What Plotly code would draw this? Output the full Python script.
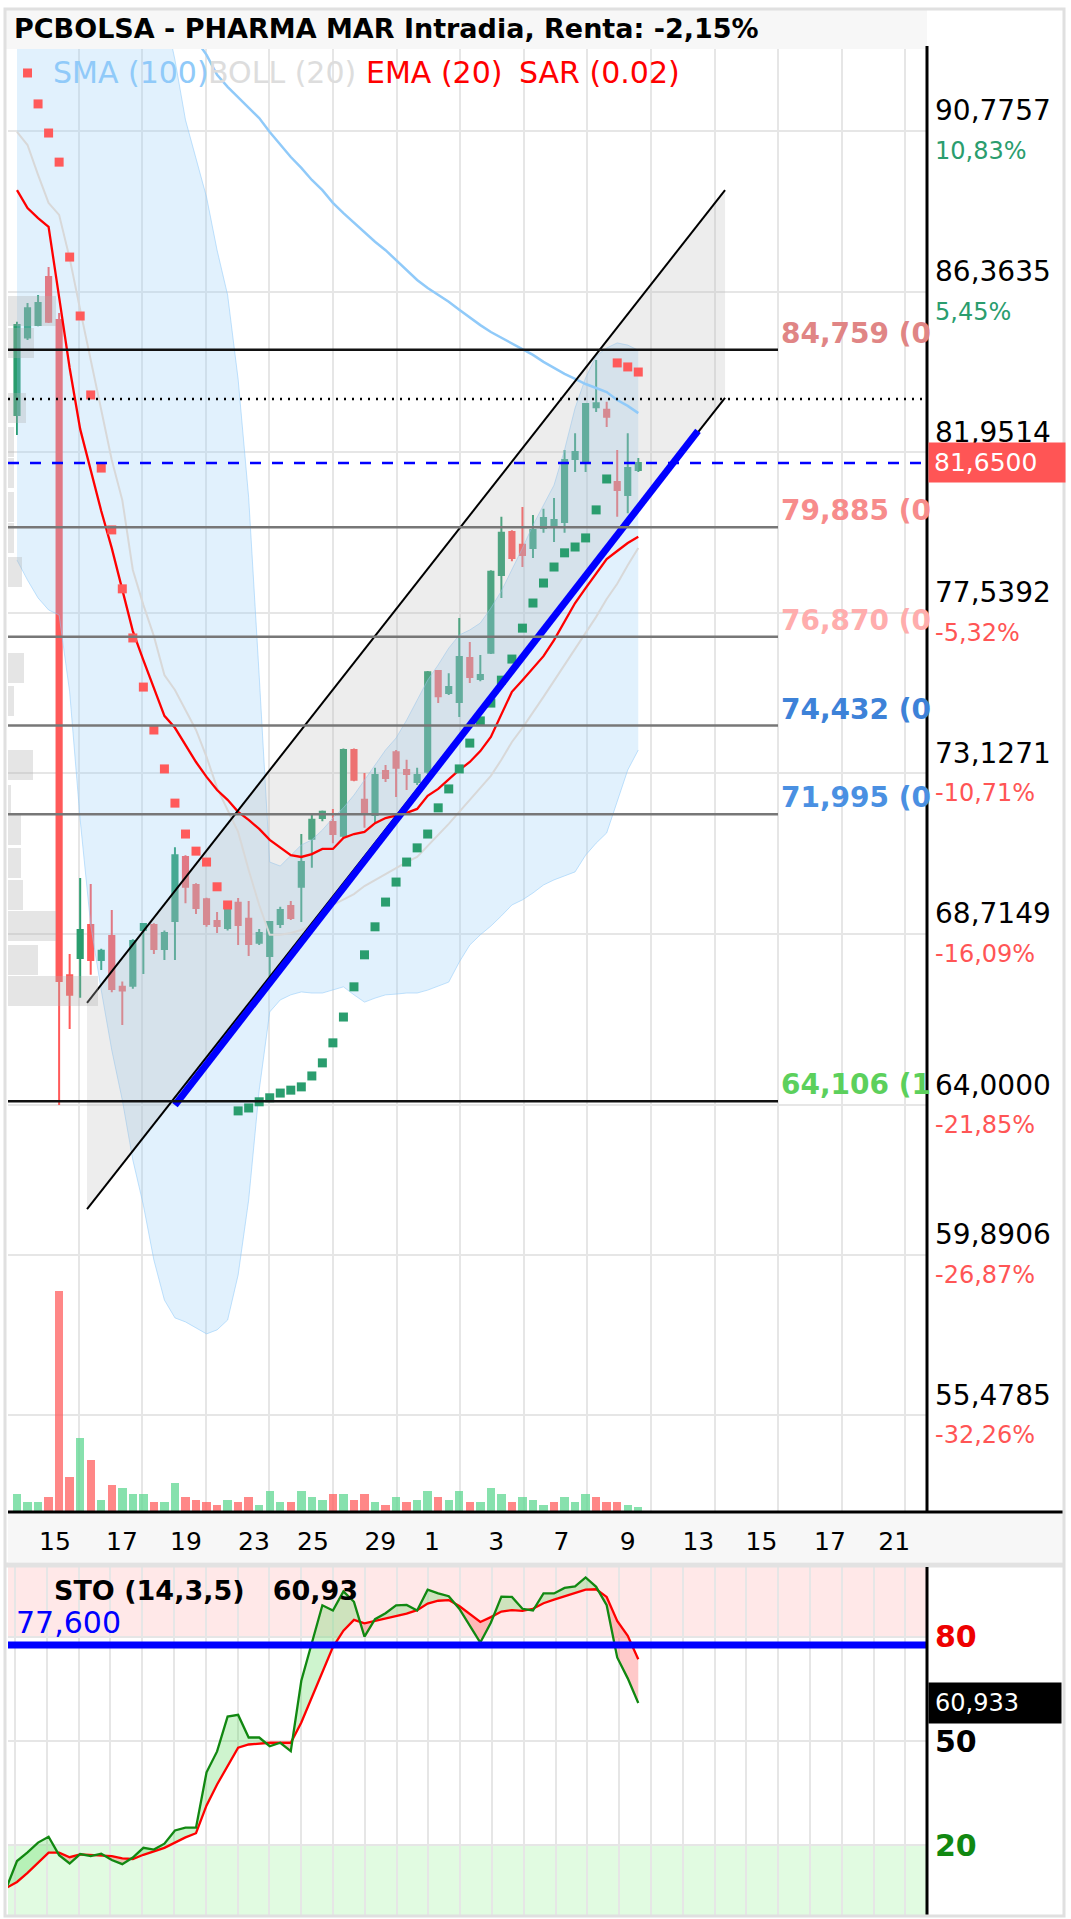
import plotly.graph_objects as go

W, H = 1071, 1919

# ----------------------------- data -----------------------------
bar_idx = list(range(60))
opens = [82.97, 85.10, 85.44, 86.76, 85.58, 67.57, 68.04, 68.95, 67.99, 68.65,
         67.25, 67.28, 68.81, 68.95, 68.29, 69.06, 70.82, 70.05, 69.66, 69.06,
         68.87, 69.56, 69.12, 68.46, 68.10, 68.98, 69.47, 70.00, 71.32, 71.89,
         71.78, 71.40, 73.76, 72.39, 71.97, 73.18, 73.70, 73.21, 72.88, 73.16,
         75.93, 75.33, 75.08, 76.29, 75.71, 76.43, 78.57, 79.75, 79.40, 79.31,
         79.86, 79.89, 80.03, 81.76, 81.68, 83.18, 83.11, 81.13, 80.77, 81.46]
highs = [85.53, 86.05, 86.27, 87.04, 85.77, 68.15, 70.24, 70.08, 68.30, 69.36,
         67.40, 68.56, 68.98, 69.00, 68.80, 71.09, 70.87, 70.10, 69.70, 69.31,
         69.60, 69.69, 69.61, 68.84, 69.05, 69.45, 69.61, 71.45, 72.03, 72.10,
         72.14, 73.80, 73.80, 73.13, 73.27, 73.35, 73.76, 73.49, 73.27, 75.93,
         75.95, 75.87, 77.39, 76.73, 76.37, 78.70, 80.17, 79.80, 80.44, 80.22,
         80.39, 80.69, 82.01, 82.47, 83.27, 84.48, 83.33, 82.01, 82.47, 81.79]
lows = [82.42, 85.03, 85.41, 85.50, 64.00, 66.09, 66.95, 67.58, 67.71, 67.10,
        66.20, 67.20, 67.60, 68.15, 67.99, 67.99, 69.55, 69.25, 68.90, 68.73,
        68.80, 68.40, 68.10, 68.40, 67.52, 68.87, 69.09, 69.03, 70.52, 71.80,
        71.20, 71.35, 72.90, 71.62, 71.75, 72.88, 72.47, 72.66, 72.80, 73.10,
        75.05, 75.27, 74.67, 75.60, 75.65, 76.40, 77.94, 78.95, 78.79, 79.04,
        79.73, 79.48, 79.73, 81.40, 81.40, 83.05, 82.64, 80.17, 80.27, 81.40]
closes = [85.44, 85.90, 86.05, 85.53, 67.41, 67.03, 68.81, 67.99, 68.24, 67.19,
          67.15, 68.51, 68.98, 68.29, 68.73, 70.87, 70.00, 69.42, 68.98, 68.92,
          69.50, 68.95, 68.43, 68.73, 69.03, 69.36, 69.14, 70.68, 71.84, 72.06,
          71.45, 73.76, 72.94, 72.03, 73.07, 72.99, 73.27, 73.10, 73.07, 75.90,
          75.24, 75.49, 76.32, 75.77, 75.82, 78.66, 79.73, 79.04, 79.12, 79.81,
          80.14, 80.08, 81.73, 81.95, 83.27, 83.29, 82.92, 80.91, 81.51, 81.65]

volumes = [180, 100, 100, 150, 2210, 350, 740, 520, 120, 270,
           240, 180, 180, 100, 100, 290, 150, 120, 100, 70,
           120, 100, 150, 70, 210, 100, 100, 210, 150, 120,
           180, 180, 120, 180, 100, 70, 150, 100, 120, 210,
           150, 120, 210, 100, 100, 240, 180, 100, 150, 120,
           70, 100, 150, 100, 180, 150, 100, 100, 70, 50]
volume_up = "gggrrrgrgrgggrggrrrrgrrgggrgggrgrrgrgrggrggrgggrgggrgggrrrgg"

ema20 = [89.15, 88.66, 88.38, 88.14, 86.21, 84.26, 82.58, 81.43, 80.33, 79.31,
         78.16, 77.03, 76.23, 75.44, 74.70, 74.37, 73.90, 73.43, 73.02, 72.66,
         72.39, 72.06, 71.84, 71.59, 71.29, 71.07, 70.87, 70.82, 70.90, 71.04,
         71.04, 71.34, 71.45, 71.51, 71.75, 71.89, 71.95, 72.03, 72.14, 72.50,
         72.69, 72.94, 73.21, 73.43, 73.73, 74.12, 74.75, 75.36, 75.68, 76.01,
         76.34, 76.78, 77.28, 77.80, 78.21, 78.60, 79.01, 79.23, 79.45, 79.62]

sma100 = [None] * 16 + [
    93.83, 93.28, 92.87, 92.32, 91.99, 91.71, 91.41, 91.13, 90.75, 90.39,
    90.06, 89.76, 89.43, 89.15, 88.80, 88.52, 88.25, 88.00, 87.73, 87.50,
    87.23, 86.95, 86.68, 86.46, 86.27, 86.08, 85.86, 85.64, 85.44, 85.25,
    85.09, 84.92, 84.76, 84.62, 84.43, 84.26, 84.10, 83.96, 83.82, 83.71,
    83.60, 83.38, 83.22, 83.02]

boll_mid = [90.75, 90.39, 89.57, 88.80, 88.47, 87.28, 85.86, 84.48, 83.11, 81.73,
            80.63, 78.71, 77.75, 76.89, 75.82, 75.41, 74.86, 74.31, 73.57, 72.72,
            72.11, 71.51, 70.46, 69.50, 68.68, 68.68, 68.73, 68.81, 68.95, 69.20,
            69.50, 69.64, 69.80, 70.02, 70.19, 70.35, 70.52, 70.68, 70.82, 71.12,
            71.42, 71.73, 72.06, 72.39, 72.74, 73.05, 73.49, 73.98, 74.37, 74.78,
            75.22, 75.66, 76.10, 76.51, 76.95, 77.42, 77.91, 78.33, 78.84, 79.31]
boll_up = [99.5, 99.3, 99.0, 98.8, 98.6, 98.5, 98.3, 98.0, 97.6, 97.2,
           96.6, 95.9, 95.2, 94.5, 94.10, 92.73, 91.08, 89.98, 88.96, 87.50,
           86.27, 83.95, 80.70, 75.80, 70.68, 70.57, 70.87, 71.15, 71.29, 71.56,
           71.89, 72.17, 72.52, 72.94, 73.35, 73.76, 74.09, 74.58, 75.13, 75.68,
           76.10, 76.56, 76.92, 77.06, 77.25, 77.66, 78.13, 78.71, 79.31, 79.94,
           80.49, 81.04, 82.01, 83.16, 83.99, 84.59, 84.81, 84.95, 84.89, 84.75]
boll_lo = [78.98, 78.43, 77.94, 77.61, 77.47, 75.36, 71.84, 68.95, 67.16, 65.51,
           64.14, 62.49, 61.25, 59.74, 58.64, 58.15, 58.04, 57.87, 57.71, 57.82,
           58.09, 59.33, 61.39, 64.41, 66.56, 66.89, 67.03, 67.11, 67.08, 67.08,
           67.16, 67.25, 67.03, 66.83, 66.94, 67.03, 67.05, 67.08, 67.08, 67.16,
           67.27, 67.38, 67.93, 68.40, 68.68, 68.92, 69.20, 69.50, 69.64, 69.83,
           70.05, 70.19, 70.30, 70.41, 70.87, 71.20, 71.48, 72.33, 73.21, 73.76]

sar = [None, 92.37, 91.52, 90.72, 89.92, 87.31, 85.69, 83.52, 81.51, 79.81,
       78.19, 76.84, 75.49, 74.31, 73.24, 72.30, 71.45, 70.98, 70.68, 70.00,
       69.50, 63.84, 63.92, 64.09, 64.20, 64.33, 64.41, 64.50, 64.80, 65.16,
       65.71, 66.42, 67.25, 68.13, 68.90, 69.58, 70.13, 70.68, 71.07, 71.45,
       72.17, 72.69, 73.24, 73.95, 74.56, 75.05, 75.68, 76.26, 77.11, 77.80,
       78.35, 78.79, 79.18, 79.34, 79.59, 80.36, 81.21, 84.40, 84.29, 84.15]
sar_long_from, sar_long_to = 21, 56

# volume-by-price profile (left side)
vp_price = [85.83, 84.95, 83.16, 82.23, 81.37, 80.44, 79.59, 78.65, 76.02, 75.11,
            73.35, 72.39, 71.56, 70.65, 69.77, 68.92, 67.99, 67.14]
vp_volume = [48, 26, 18, 6, 6, 6, 6, 14, 16, 6, 25, 3, 13, 13, 15, 48, 30, 90]

# stochastic (14,3,5)
sto_idx = list(range(-1, 60))
sto_k = [7.8, 15.5, 18, 20.8, 22.5, 17.2, 14.8, 17.5, 16.9, 17.6, 15.8,
         14.6, 16.5, 19.3, 18.8, 20.5, 24.3, 25.1, 25.1, 41, 47,
         57, 57.5, 51, 51, 48.5, 49.5, 47.1, 67.3, 78, 89,
         87.5, 93, 90, 80, 85, 86.7, 89, 89.1, 87.5, 93.5,
         92.4, 91.6, 88, 83, 78.3, 84, 91.5, 91.4, 88, 87.5,
         92.4, 92.4, 94, 94.4, 97, 94.3, 89, 74, 68, 60.933]
sto_d = [7.8, 9.5, 12.1, 15, 17.9, 17.9, 16.6, 17.4, 17.2, 17.0, 16.9,
         16.3, 16.1, 17.3, 18.4, 19.3, 20.8, 22.3, 23.5, 31.5, 37.5,
         43, 48.1, 49, 49.3, 49.5, 49.5, 49.5, 55.3, 62.5, 69.5,
         77, 81.7, 84.8, 83.8, 84.5, 85.2, 86, 86.6, 87.6, 89.5,
         90.3, 90.5, 88.8, 86.6, 84.2, 85.6, 87.2, 87.6, 87.4, 88,
         89.6, 90.6, 91.6, 92.6, 93.5, 93.6, 91.4, 84.5, 80.2, 73.5]
sto_level = 77.6

# drawing tools
channel_x = [6.65, 67.24]
channel_upper = [66.81, 89.15]
channel_lower = [61.14, 83.44]
support_x = [15.0, 64.67]
support_y = [64.00, 82.53]

levels = [84.759, 79.885, 76.870, 74.432, 71.995, 64.106]
level_text = ["84,759 (0", "79,885 (0", "76,870 (0", "74,432 (0", "71,995 (0", "64,106 (1"]
level_text_color = ["#e08585", "#f78c8c", "#ffadad", "#3d82d8", "#4a90e2", "#5cd05c"]
level_line_color = ["#111111", "#777777", "#777777", "#777777", "#777777", "#111111"]
dotted_level = 83.41
last_price = 81.65

price_ticks = [90.7757, 86.3635, 81.9514, 77.5392, 73.1271, 68.7149, 64.0, 59.8906, 55.4785]
pct_text = ["10,83%", "5,45%", "", "-5,32%", "-10,71%", "-16,09%", "-21,85%", "-26,87%", "-32,26%"]

date_pos = [3.6, 9.97, 16.05, 22.5, 28.1, 34.5, 39.4, 45.5, 51.7, 58.0, 64.7, 70.7, 77.2, 83.3]
date_text = ["15", "17", "19", "23", "25", "29", "1", "3", "7", "9", "13", "15", "17", "21"]

# ----------------------------- layout helpers -----------------------------
def PX(x):
    return x / W


def PY(y):
    return 1 - y / H


X0, X1 = 8, 927
MAIN_T, MAIN_B = 46, 1512
STO_T, STO_B = 1567, 1915
XR = [-0.855, 86.42]
YR = [52.814, 93.112]

GREEN = "#2a9d6e"
RED = "#ff5a5a"
FONT = "DejaVu Sans"

grid_all = [-0.2 + 3.02 * k for k in range(29)]
grid_main = [g for k, g in enumerate(grid_all) if k % 2 == 0 and k > 0]

fig = go.Figure()

# volume profile
fig.add_trace(go.Bar(x=vp_volume, y=vp_price, orientation="h", width=0.82,
                     marker=dict(color="rgba(175,175,175,0.32)", line=dict(width=0)),
                     xaxis="x3", yaxis="y", hoverinfo="skip"))

# Bollinger bands
fig.add_trace(go.Scatter(x=bar_idx, y=boll_up, mode="lines",
                         line=dict(color="rgba(144,202,249,0.55)", width=1),
                         xaxis="x", yaxis="y"))
fig.add_trace(go.Scatter(x=bar_idx, y=boll_lo, mode="lines", fill="tonexty",
                         fillcolor="rgba(144,202,249,0.27)",
                         line=dict(color="rgba(144,202,249,0.55)", width=1),
                         xaxis="x", yaxis="y"))

# regression channel fill
fig.add_trace(go.Scatter(x=[channel_x[0], channel_x[1], channel_x[1], channel_x[0], channel_x[0]],
                         y=[channel_upper[0], channel_upper[1], channel_lower[1], channel_lower[0], channel_upper[0]],
                         mode="lines", fill="toself", fillcolor="rgba(185,185,185,0.26)",
                         line=dict(width=0), xaxis="x", yaxis="y"))

# volume bars
fig.add_trace(go.Bar(x=bar_idx, y=volumes, width=0.8,
                     marker=dict(color=["rgba(95,215,145,0.75)" if c == "g" else "rgba(255,95,95,0.75)"
                                        for c in volume_up], line=dict(width=0)),
                     xaxis="x", yaxis="y3"))

# SMA / BOLL mid / EMA
fig.add_trace(go.Scatter(x=bar_idx, y=sma100, mode="lines", line=dict(color="#90caf9", width=2.5),
                         xaxis="x", yaxis="y"))
fig.add_trace(go.Scatter(x=bar_idx, y=boll_mid, mode="lines", line=dict(color="#d8d8d8", width=2),
                         xaxis="x", yaxis="y"))
fig.add_trace(go.Scatter(x=bar_idx, y=ema20, mode="lines", line=dict(color="#ff0000", width=2.3),
                         xaxis="x", yaxis="y"))

# candles
fig.add_trace(go.Candlestick(x=bar_idx, open=opens, high=highs, low=lows, close=closes,
                             increasing=dict(line=dict(color=GREEN, width=2), fillcolor=GREEN),
                             decreasing=dict(line=dict(color=RED, width=2), fillcolor=RED),
                             whiskerwidth=0, xaxis="x", yaxis="y"))

# SAR
sar_colors = [GREEN if sar_long_from <= i <= sar_long_to else RED for i in bar_idx]
fig.add_trace(go.Scatter(x=bar_idx, y=sar, mode="markers",
                         marker=dict(symbol="square", size=9, color=sar_colors, line=dict(width=0)),
                         xaxis="x", yaxis="y"))

# channel lines and support line
fig.add_trace(go.Scatter(x=channel_x, y=channel_upper, mode="lines", line=dict(color="black", width=2),
                         xaxis="x", yaxis="y"))
fig.add_trace(go.Scatter(x=channel_x, y=channel_lower, mode="lines", line=dict(color="black", width=2),
                         xaxis="x", yaxis="y"))
fig.add_trace(go.Scatter(x=support_x, y=support_y, mode="lines", line=dict(color="#0000ff", width=7),
                         xaxis="x", yaxis="y"))

# stochastic fills between %K and %D
def fill_segments(xs, k, d):
    segs = []
    top = [(xs[0], k[0])]
    bot = [(xs[0], d[0])]
    sign = k[0] >= d[0]
    for i in range(1, len(xs)):
        s = k[i] >= d[i]
        if s != sign:
            dk = k[i] - k[i - 1]
            dd = d[i] - d[i - 1]
            t = (d[i - 1] - k[i - 1]) / (dk - dd) if dk != dd else 0.5
            xc = xs[i - 1] + t * (xs[i] - xs[i - 1])
            yc = k[i - 1] + t * dk
            top.append((xc, yc))
            bot.append((xc, yc))
            segs.append((top, bot, sign))
            top = [(xc, yc)]
            bot = [(xc, yc)]
            sign = s
        top.append((xs[i], k[i]))
        bot.append((xs[i], d[i]))
    segs.append((top, bot, sign))
    return segs


for top, bot, up in fill_segments(sto_idx, sto_k, sto_d):
    px_ = [p[0] for p in top] + [p[0] for p in reversed(bot)]
    py_ = [p[1] for p in top] + [p[1] for p in reversed(bot)]
    fig.add_trace(go.Scatter(x=px_, y=py_, mode="lines", fill="toself",
                             fillcolor="rgba(60,210,60,0.25)" if up else "rgba(255,60,60,0.28)",
                             line=dict(width=0), xaxis="x2", yaxis="y2"))

fig.add_trace(go.Scatter(x=sto_idx, y=sto_d, mode="lines", line=dict(color="#ff0000", width=2.3),
                         xaxis="x2", yaxis="y2"))
fig.add_trace(go.Scatter(x=sto_idx, y=sto_k, mode="lines", line=dict(color="#118811", width=2.3),
                         xaxis="x2", yaxis="y2"))

# ----------------------------- shapes -----------------------------
shapes = []
shapes.append(dict(type="rect", xref="x2 domain", yref="y2", x0=0, x1=1, y0=80, y1=100,
                   fillcolor="rgba(255,140,140,0.2)", line=dict(width=0), layer="below"))
shapes.append(dict(type="rect", xref="x2 domain", yref="y2", x0=0, x1=1, y0=0, y1=20,
                   fillcolor="rgba(120,235,120,0.22)", line=dict(width=0), layer="below"))
shapes.append(dict(type="line", xref="x2 domain", yref="y2", x0=0, x1=1, y0=sto_level, y1=sto_level,
                   line=dict(color="#0000ff", width=7), layer="above"))

for lv, lc in zip(levels, level_line_color):
    shapes.append(dict(type="line", xref="x domain", yref="y", x0=0, x1=(778 - X0) / (X1 - X0),
                       y0=lv, y1=lv, line=dict(color=lc, width=2.5), layer="above"))
shapes.append(dict(type="line", xref="x domain", yref="y", x0=0, x1=1, y0=dotted_level, y1=dotted_level,
                   line=dict(color="black", width=2.5, dash="2px,6px"), layer="above"))
shapes.append(dict(type="line", xref="x domain", yref="y", x0=0, x1=1, y0=last_price, y1=last_price,
                   line=dict(color="#0000ff", width=2.5, dash="11px,11px"), layer="above"))

shapes.append(dict(type="rect", xref="paper", yref="paper", x0=PX(5), x1=PX(927), y0=PY(49), y1=PY(10),
                   fillcolor="#f7f7f7", line=dict(width=0), layer="above"))
shapes.append(dict(type="rect", xref="paper", yref="paper", x0=PX(8), x1=PX(1063), y0=PY(1562), y1=PY(1514),
                   fillcolor="#f7f7f7", line=dict(width=0), layer="below"))
shapes.append(dict(type="line", xref="paper", yref="paper", x0=PX(5), x1=PX(1064), y0=PY(1565), y1=PY(1565),
                   line=dict(color="#e2e2e2", width=5)))
shapes.append(dict(type="line", xref="paper", yref="paper", x0=PX(8), x1=PX(1063), y0=PY(MAIN_B), y1=PY(MAIN_B),
                   line=dict(color="black", width=3)))
shapes.append(dict(type="line", xref="paper", yref="paper", x0=PX(X1), x1=PX(X1), y0=PY(MAIN_B), y1=PY(MAIN_T),
                   line=dict(color="black", width=3)))
shapes.append(dict(type="line", xref="paper", yref="paper", x0=PX(X1), x1=PX(X1), y0=PY(STO_B), y1=PY(STO_T),
                   line=dict(color="black", width=3)))
shapes.append(dict(type="rect", xref="paper", yref="paper", x0=PX(5), x1=PX(1064), y0=PY(1916), y1=PY(9),
                   fillcolor="rgba(0,0,0,0)", line=dict(color="#e0e0e0", width=3)))

# ----------------------------- annotations -----------------------------
ann = []


def add_text(text, x, y, size, color, xref="paper", yref="paper", xanchor="left", yanchor="middle",
             weight="normal", yshift=0, bg=None, **kw):
    d = dict(text=text, x=x, y=y, xref=xref, yref=yref, xanchor=xanchor, yanchor=yanchor,
             showarrow=False, yshift=yshift,
             font=dict(family=FONT, size=size, color=color, weight=weight))
    if bg is not None:
        d["bgcolor"] = bg
    d.update(kw)
    ann.append(d)


def fmt(v, n):
    return "{:.{}f}".format(v, n).replace(".", ",")


add_text("PCBOLSA - PHARMA MAR Intradia, Renta: -2,15%", PX(12), PY(29), 27, "black", weight="bold")
add_text("SMA (100)", PX(51), PY(73), 30, "#90caf9")
add_text("BOLL (20)", PX(206), PY(73), 30, "#dddddd")
add_text("EMA (20)", PX(364), PY(73), 30, "#ff0000")
add_text("SAR (0.02)", PX(517), PY(73), 30, "#ff0000")

for pv, pt in zip(price_ticks, pct_text):
    add_text(fmt(pv, 4), PX(933), pv, 28, "black", yref="y", yshift=20)
    if pt:
        add_text(pt, PX(933), pv, 24, "#2a9d6e" if not pt.startswith("-") else "#ff5555",
                 yref="y", yshift=-20)

for lv, lt, lc in zip(levels, level_text, level_text_color):
    add_text(lt, PX(779), lv, 28, lc, yref="y", yanchor="bottom", weight="bold", yshift=-2)

add_text(fmt(last_price, 4), PX(928), last_price, 25, "white", yref="y",
         bg="#ff5555", width=126, align="left", borderpad=5)

sto_last = sto_k[-1]
add_text("STO (14,3,5)   " + fmt(sto_last, 2), PX(52), PY(1590), 27, "black", weight="bold")
add_text(fmt(sto_level, 3), PX(14), PY(1622), 30, "#0000ff")
add_text("80", PX(933), 80, 30, "#ee0000", yref="y2", weight="bold")
add_text("50", PX(933), 50, 30, "black", yref="y2", weight="bold")
add_text("20", PX(933), 20, 30, "#118811", yref="y2", weight="bold")
add_text(fmt(sto_last, 3), PX(928), sto_last, 24, "white", yref="y2",
         bg="black", width=120, align="left", borderpad=6)

fig.update_layout(
    width=W, height=H,
    margin=dict(l=0, r=0, t=0, b=0),
    paper_bgcolor="white", plot_bgcolor="white",
    showlegend=False, bargap=0,
    xaxis=dict(domain=[PX(X0), PX(X1)], range=XR, anchor="y",
               tickmode="array", tickvals=date_pos, ticktext=date_text,
               tickfont=dict(family=FONT, size=25, color="black"), ticks="",
               ticklabelstandoff=12,
               showgrid=False, zeroline=False, showline=False,
               minor=dict(tickvals=grid_main, showgrid=True, gridcolor="#e6e6e6", gridwidth=2, ticks=""),
               rangeslider=dict(visible=False), fixedrange=True),
    yaxis=dict(domain=[PY(MAIN_B), PY(MAIN_T)], range=YR, anchor="x",
               tickmode="array", tickvals=price_ticks, showticklabels=False,
               showgrid=True, gridcolor="#e6e6e6", gridwidth=2, zeroline=False, fixedrange=True),
    yaxis3=dict(overlaying="y", range=[0, 14660], visible=False, fixedrange=True),
    xaxis3=dict(overlaying="x", anchor="y", range=[0, X1 - X0], visible=False, fixedrange=True),
    xaxis2=dict(domain=[PX(X0), PX(X1)], range=XR, anchor="y2", showticklabels=False,
                showgrid=False, zeroline=False, showline=False,
                tickmode="array", tickvals=date_pos,
                minor=dict(tickvals=grid_all, showgrid=True, gridcolor="#e6e6e6", gridwidth=2, ticks=""),
                fixedrange=True),
    yaxis2=dict(domain=[PY(STO_B), PY(STO_T)], range=[0, 100], anchor="x2",
                tickmode="array", tickvals=[20, 50, 80], showticklabels=False,
                showgrid=True, gridcolor="#e6e6e6", gridwidth=2, zeroline=False, fixedrange=True),
    shapes=shapes,
    annotations=ann,
)

fig.write_html("out.html", config={"displayModeBar": False})
